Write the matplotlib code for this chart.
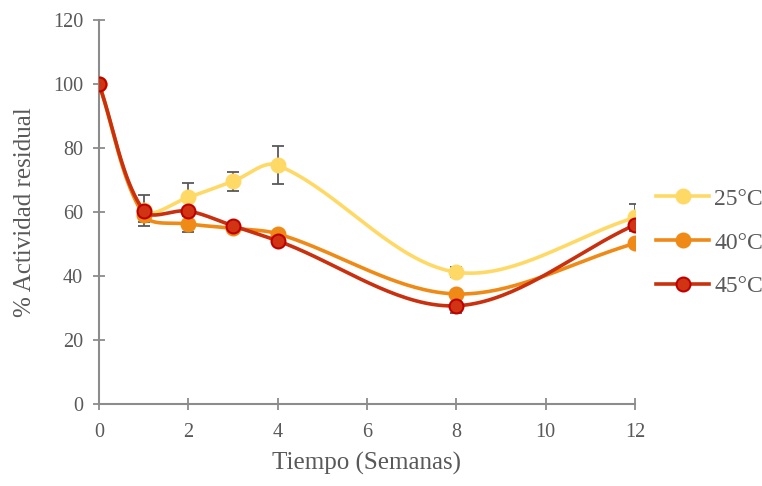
import numpy as np
import matplotlib
matplotlib.use("Agg")
import matplotlib.pyplot as plt

semanas = [0, 1, 2, 3, 4, 8, 12]
act_25 = [100, 60.5, 64.6, 69.6, 74.6, 41.2, 58.3]
err_25 = [0, 4.8, 4.6, 3.0, 5.9, 1.5, 4.2]
act_40 = [100, 59.0, 56.3, 54.9, 53.2, 34.4, 50.2]
err_40 = [0, 2.0, 2.4, 0, 0, 0, 0]
act_45 = [100, 60.4, 60.3, 55.7, 51.0, 30.7, 56.0]
err_45 = [0, 0, 0, 0, 0, 2.3, 0]

nombres = ["25°C", "40°C", "45°C"]
colores_linea = ["#FFD966", "#F08A16", "#C9300E"]
colores_borde = ["#FFD966", "#F08A16", "#C00000"]
colores_relleno = ["#FFD966", "#F08A16", "#D13412"]

texto = "#595959"
eje = "#8C8C8C"

plt.rcParams['font.family'] = ['Liberation Serif', 'DejaVu Serif']


def suavizar(ax, x, y, n=40):
    # curva suavizada tipo Excel, calculada en pixeles
    pts = ax.transData.transform(np.column_stack([x, y]))
    p = np.vstack([pts[0], pts, pts[-1]])
    t = np.linspace(0, 1, n)[:, None]
    curva = []
    for i in range(1, len(p) - 2):
        a, b, c, d = p[i - 1], p[i], p[i + 1], p[i + 2]
        dab = np.hypot(*(b - a))
        dbc = np.hypot(*(c - b))
        dcd = np.hypot(*(d - c))
        c1 = b + (c - a) * dbc / (dab + dbc) / 3 if dab + dbc > 0 else b
        c2 = c - (d - b) * dbc / (dbc + dcd) / 3 if dbc + dcd > 0 else c
        seg = (1 - t) ** 3 * b + 3 * (1 - t) ** 2 * t * c1 + 3 * (1 - t) * t ** 2 * c2 + t ** 3 * c
        curva.append(seg)
    curva = np.vstack(curva)
    datos = ax.transData.inverted().transform(curva)
    return datos[:, 0], datos[:, 1]


fig = plt.figure(figsize=(7.62, 4.86), dpi=100)
ax = fig.add_axes([0.1299, 0.1687, 0.7034, 0.7901])
ax.set_xlim(0, 12)
ax.set_ylim(0, 120)

series = [act_25, act_40, act_45]
errores = [err_25, err_40, err_45]
for i, (vals, errs) in enumerate(zip(series, errores)):
    sx, sy = suavizar(ax, semanas, vals)
    ax.plot(sx, sy, color=colores_linea[i], lw=2.6, zorder=2 + i, solid_capstyle='round')
    xe = [s for s, e in zip(semanas, errs) if e > 0]
    ye = [v for v, e in zip(vals, errs) if e > 0]
    ee = [e for e in errs if e > 0]
    ax.errorbar(xe, ye, yerr=ee, fmt='none', ecolor="#595959", elinewidth=1.3,
                capsize=4, capthick=1.3, zorder=1.5)
    ax.plot(semanas, vals, 'o', ms=10, color=colores_relleno[i], mec=colores_borde[i],
            mew=1.5, zorder=2.5 + i)
    ax.plot([], [], '-o', color=colores_linea[i], lw=2.6, ms=10,
            mfc=colores_relleno[i], mec=colores_borde[i], mew=1.5, label=nombres[i])

ax.set_xticks(range(0, 13, 2))
ax.set_yticks(range(0, 121, 20))
ax.spines['top'].set_visible(False)
ax.spines['right'].set_visible(False)
for s in ['left', 'bottom']:
    ax.spines[s].set_color(eje)
    ax.spines[s].set_linewidth(1.5)
ax.tick_params(direction='inout', length=9, width=1.3, color=eje, labelcolor=texto,
               labelsize=14.5)
ax.tick_params(axis='x', pad=9)
ax.tick_params(axis='y', pad=7)
ax.set_xlabel("Tiempo (Semanas)", fontsize=18, color=texto, labelpad=7)
ax.set_ylabel("% Actividad residual", fontsize=18, color=texto, labelpad=12)
for t in ax.get_xticklabels() + ax.get_yticklabels():
    t.set_clip_on(False)

leg = ax.legend(loc='center left', bbox_to_anchor=(1.0, 0.42), frameon=False,
                fontsize=17, labelcolor=texto, handlelength=2.25, labelspacing=0.95,
                handletextpad=0.2, borderaxespad=0.5)

fig.savefig("out.png", dpi=100)
